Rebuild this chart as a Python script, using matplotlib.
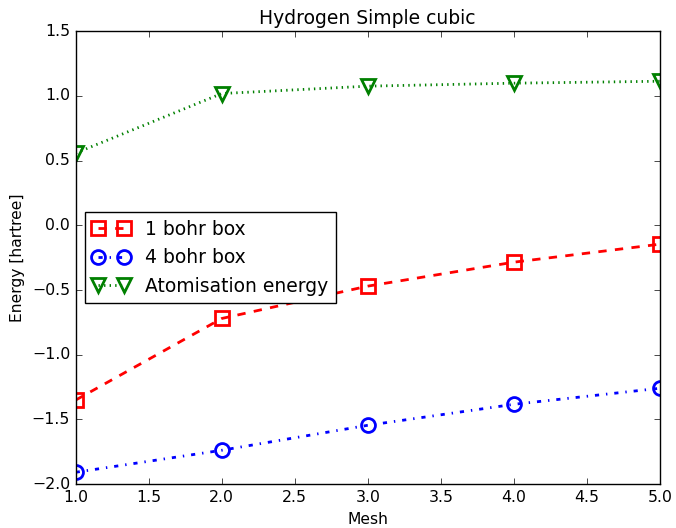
import matplotlib
matplotlib.use("Agg")
import matplotlib.pyplot as plt

# values
mesh = [1, 2, 3, 4, 5]
box_1bohr = [-1.35, -0.72, -0.47, -0.285, -0.146]
box_4bohr = [-1.908, -1.738, -1.545, -1.383, -1.259]
atomisation = [0.558, 1.018, 1.075, 1.098, 1.113]

plt.style.use("classic")
fig = plt.figure(figsize=(6.76, 5.28), dpi=100, facecolor="white")
ax = fig.add_axes([0.112, 0.083, 0.864, 0.858])

ax.plot(mesh, box_1bohr, "s--", color="red", mfc="none", mec="red",
        mew=2, ms=10, lw=2, label="1 bohr box")
ax.plot(mesh, box_4bohr, "o-.", color="blue", mfc="none", mec="blue",
        mew=2, ms=10, lw=2, label="4 bohr box")
ax.plot(mesh, atomisation, "v:", color="green", mfc="none", mec="green",
        mew=2, ms=10, lw=2, label="Atomisation energy")

ax.set_xlim(1, 5)
ax.set_ylim(-2, 1.5)
ax.set_title("Hydrogen Simple cubic", fontsize=13.5)
ax.set_xlabel("Mesh", fontsize=11.2)
ax.set_ylabel("Energy [hartree]", fontsize=11.2)
ax.tick_params(labelsize=11.3)
ax.legend(loc="center left", numpoints=2, fontsize=13.5)

fig.savefig("out.png", dpi=100, facecolor="white")
